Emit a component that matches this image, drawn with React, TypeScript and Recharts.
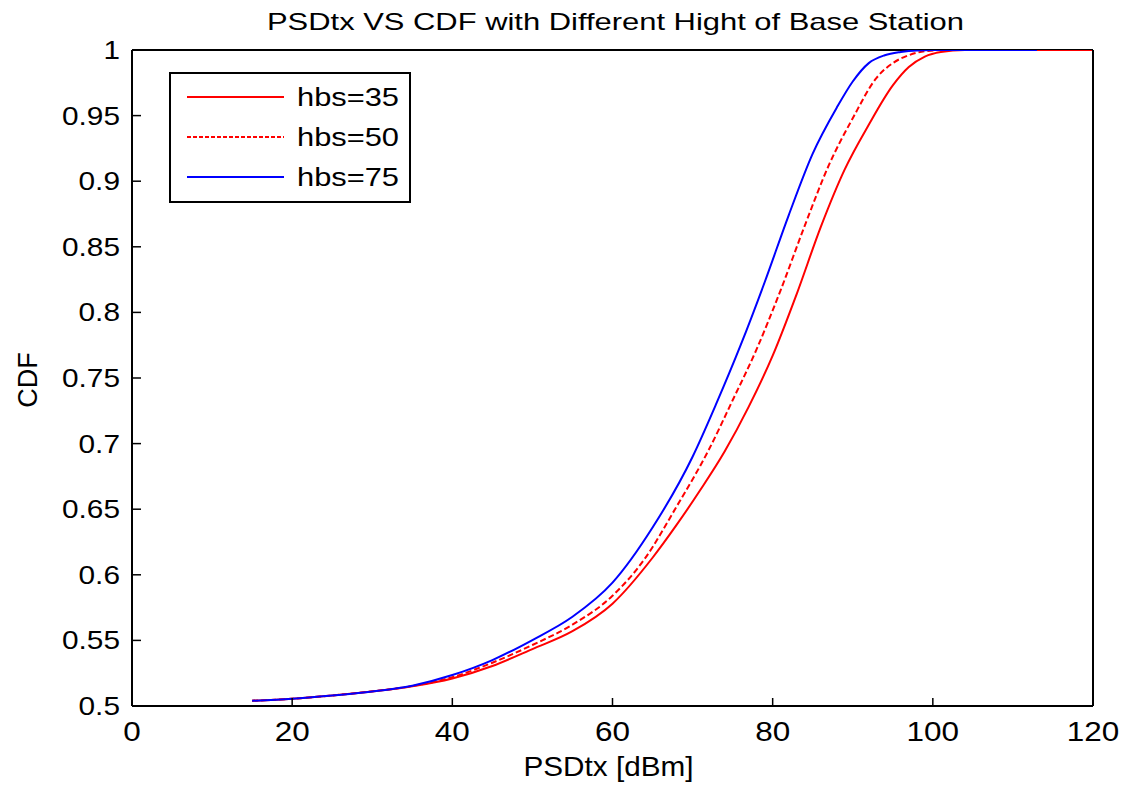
import React from 'react';
import { LineChart, Line, XAxis, YAxis, CartesianGrid } from 'recharts';

// CDF of transmit PSD for three base-station heights
const psd35 = [15, 20, 25, 30, 35, 40, 45, 50, 55, 60, 65, 68, 71, 74, 77, 80, 83, 86, 89, 92, 95, 97, 99, 101, 104, 120];
const cdf35 = [0.504, 0.5055, 0.508, 0.511, 0.515, 0.521, 0.5305, 0.5434, 0.557, 0.578, 0.613, 0.638, 0.665, 0.694, 0.728, 0.767, 0.814, 0.865, 0.909, 0.943, 0.973, 0.987, 0.995, 0.9985, 1, 1];

const psd50 = [15, 20, 25, 30, 35, 40, 45, 50, 55, 60, 64, 68, 72, 75, 78, 81, 84, 87, 90, 93, 95, 97, 99, 102, 110];
const cdf50 = [0.504, 0.5055, 0.508, 0.5112, 0.5152, 0.522, 0.533, 0.5465, 0.562, 0.584, 0.612, 0.652, 0.695, 0.733, 0.772, 0.817, 0.866, 0.912, 0.948, 0.979, 0.99, 0.996, 0.999, 1, 1];

const psd75 = [15, 20, 25, 30, 35, 40, 45, 50, 55, 60, 65, 70, 73, 76, 79, 82, 85, 88, 90, 92, 94, 96, 98, 100, 113];
const cdf75 = [0.504, 0.5055, 0.508, 0.511, 0.5155, 0.5236, 0.535, 0.5503, 0.568, 0.594, 0.636, 0.69, 0.731, 0.775, 0.823, 0.874, 0.921, 0.956, 0.976, 0.99, 0.996, 0.9985, 0.9997, 1, 1];

const xTicks = [0, 20, 40, 60, 80, 100, 120];
const yTicks = [0.5, 0.55, 0.6, 0.65, 0.7, 0.75, 0.8, 0.85, 0.9, 0.95, 1];

const FONT = '"Liberation Sans", Arial, sans-serif';

const series = [
  { name: 'hbs=35', color: '#ff0000', dash: undefined as string | undefined, xs: psd35, ys: cdf35 },
  { name: 'hbs=50', color: '#ff0000', dash: '6 3', xs: psd50, ys: cdf50 },
  { name: 'hbs=75', color: '#0000ff', dash: undefined as string | undefined, xs: psd75, ys: cdf75 },
];

const toPoints = (xs: number[], ys: number[]) => xs.map((x, i) => ({ x, y: ys[i] }));

// width of a numeric label, MATLAB-ish wide digits
const numWidth = (s: string, digit: number, dot: number) =>
  [...s].reduce((w, c) => w + (c === '.' ? dot : digit), 0);

const BottomTick = ({ x, y, payload }: any) => {
  const s = String(payload.value);
  return (
    <g>
      <line x1={x} y1={y} x2={x} y2={y - 8} stroke="#000" strokeWidth={1.5} />
      <text x={x} y={y + 35} textAnchor="middle" fontSize={27} fontFamily={FONT} fill="#000"
        textLength={numWidth(s, 17.5, 8.5)} lengthAdjust="spacingAndGlyphs">{s}</text>
    </g>
  );
};

const TopTick = ({ x, y }: any) => (
  <line x1={x} y1={y} x2={x} y2={y + 8} stroke="#000" strokeWidth={1.5} />
);

const LeftTick = ({ x, y, payload }: any) => {
  const s = String(payload.value);
  return (
    <g>
      <line x1={x} y1={y} x2={x + 9} y2={y} stroke="#000" strokeWidth={1.5} />
      <text x={x - 12} y={y + 9} textAnchor="end" fontSize={26} fontFamily={FONT} fill="#000"
        textLength={numWidth(s, 16.5, 8.5)} lengthAdjust="spacingAndGlyphs">{s}</text>
    </g>
  );
};

const RightTick = ({ x, y }: any) => (
  <line x1={x} y1={y} x2={x - 9} y2={y} stroke="#000" strokeWidth={1.5} />
);

// boxed legend in the upper-left corner of the axes
const LegendBox = () => (
  <svg width={242} height={131} style={{ display: 'block' }}>
    <rect x={1} y={1} width={240} height={129} fill="#fff" stroke="#000" strokeWidth={2} />
    {series.map((s, i) => {
      const y = 25 + i * 40;
      return (
        <g key={s.name}>
          <line x1={18} y1={y} x2={115} y2={y} stroke={s.color} strokeWidth={2} strokeDasharray={s.dash ? '4 2' : undefined} />
          <text x={128} y={y + 9} fontSize={25} fontFamily={FONT} fill="#000"
            textLength={102} lengthAdjust="spacingAndGlyphs">{s.name}</text>
        </g>
      );
    })}
  </svg>
);

export default function App() {
  return (
    <div style={{ position: 'absolute', left: 0, top: 0, width: 1131, height: 791, background: '#fff' }}>
      <LineChart width={1131} height={791} margin={{ top: 40, right: 28, bottom: 25, left: 52 }}>
        {/* top edge of the box goes under the series so the curves at CDF=1 stay visible */}
        <CartesianGrid
          vertical={false}
          stroke="#000"
          strokeWidth={2}
          strokeDasharray=""
          horizontalCoordinatesGenerator={({ offset }: any) => [offset.top]}
        />
        <XAxis
          xAxisId={0}
          type="number"
          dataKey="x"
          domain={[0, 120]}
          ticks={xTicks}
          interval={0}
          height={60}
          tickSize={0}
          tickMargin={0}
          tickLine={false}
          axisLine={{ stroke: '#000', strokeWidth: 2 }}
          tick={<BottomTick />}
          label={(props: any) => {
            const vb = props.viewBox;
            return (
              <text x={vb.x + vb.width / 2 - 4} y={vb.y + 70} textAnchor="middle" fontSize={28} fontFamily={FONT}
                fill="#000" textLength={170} lengthAdjust="spacingAndGlyphs">PSDtx [dBm]</text>
            );
          }}
        />
        <XAxis
          xAxisId="top"
          orientation="top"
          type="number"
          domain={[0, 120]}
          ticks={xTicks}
          interval={0}
          height={10}
          tickSize={0}
          tickMargin={0}
          tickLine={false}
          axisLine={false}
          tick={<TopTick />}
          label={(props: any) => {
            const vb = props.viewBox;
            return (
              <text x={vb.x + vb.width / 2 + 3} y={30} textAnchor="middle" fontSize={24} fontFamily={FONT}
                fill="#000" textLength={697} lengthAdjust="spacingAndGlyphs">
                PSDtx VS CDF with Different Hight of Base Station
              </text>
            );
          }}
        />
        <YAxis
          yAxisId={0}
          type="number"
          domain={[0.5, 1]}
          ticks={yTicks}
          interval={0}
          width={80}
          tickSize={0}
          tickMargin={0}
          tickLine={false}
          allowDataOverflow
          axisLine={{ stroke: '#000', strokeWidth: 2 }}
          tick={<LeftTick />}
          label={(props: any) => {
            const vb = props.viewBox;
            const cx = 28;
            const cy = vb.y + vb.height / 2 + 2;
            return (
              <text x={cx} y={cy} transform={`rotate(-90 ${cx} ${cy})`} textAnchor="middle" dominantBaseline="central"
                fontSize={27} fontFamily={FONT} fill="#000">CDF</text>
            );
          }}
        />
        <YAxis
          yAxisId="right"
          orientation="right"
          type="number"
          domain={[0.5, 1]}
          ticks={yTicks}
          interval={0}
          width={10}
          tickSize={0}
          tickMargin={0}
          tickLine={false}
          axisLine={{ stroke: '#000', strokeWidth: 2 }}
          tick={<RightTick />}
        />
        {series.map((s) => (
          <Line
            key={s.name}
            xAxisId={0}
            yAxisId={0}
            name={s.name}
            data={toPoints(s.xs, s.ys)}
            dataKey="y"
            type="monotone"
            stroke={s.color}
            strokeWidth={2}
            strokeDasharray={s.dash}
            dot={false}
            activeDot={false}
            isAnimationActive={false}
          />
        ))}
      </LineChart>
      <div style={{ position: 'absolute', left: 169, top: 72 }}>
        <LegendBox />
      </div>
    </div>
  );
}
